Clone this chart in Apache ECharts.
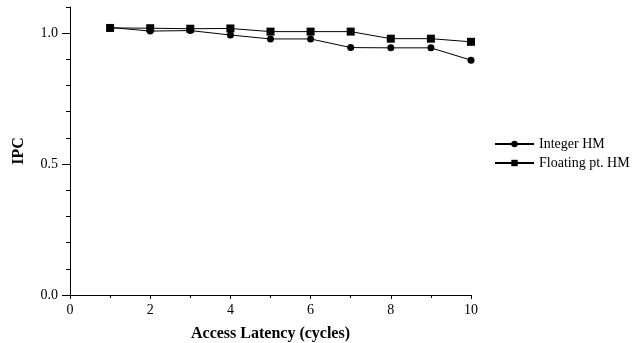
<!DOCTYPE html>
<html>
<head>
<meta charset="utf-8">
<script src="https://cdn.jsdelivr.net/npm/echarts@6/dist/echarts.min.js"></script>
<style>
  html, body { margin: 0; padding: 0; background: #fff; }
  #chart { width: 632px; height: 343px; }
</style>
</head>
<body>
<div id="chart"></div>
<script>
// data
const latency = [1, 2, 3, 4, 5, 6, 7, 8, 9, 10]
const integerHM = [1.022, 1.008, 1.010, 0.993, 0.978, 0.978, 0.945, 0.944, 0.944, 0.897]
const floatingHM = [1.020, 1.019, 1.017, 1.018, 1.006, 1.006, 1.006, 0.979, 0.979, 0.967]
const seriesNames = ['Integer HM', 'Floating pt. HM']

const font = 'Liberation Serif'
const chart = echarts.init(document.getElementById('chart'))

const axisLine = { show: true, lineStyle: { color: '#000', width: 1 } }

chart.setOption({
  animation: false,
  textStyle: { fontFamily: font, color: '#000' },
  grid: { left: 70, right: 161, top: 7, bottom: 48, outerBoundsMode: 'none' },
  legend: {
    orient: 'vertical',
    left: 489,
    top: 132,
    itemWidth: 39,
    itemHeight: 8,
    itemGap: 5,
    textStyle: { fontFamily: font, fontSize: 14, color: '#000' },
    data: seriesNames
  },
  xAxis: {
    type: 'value',
    min: 0,
    max: 10,
    interval: 2,
    axisLine: axisLine,
    axisTick: { show: true, length: 4, lineStyle: { color: '#000' } },
    minorTick: { show: true, splitNumber: 2, length: 3, lineStyle: { color: '#000' } },
    splitLine: { show: false },
    axisLabel: { color: '#000', fontFamily: font, fontSize: 14, margin: 8 },
    name: 'Access Latency (cycles)',
    nameLocation: 'middle',
    nameGap: 31,
    nameTextStyle: { fontFamily: font, fontSize: 16, fontWeight: 'bold', color: '#000' }
  },
  yAxis: [{
    type: 'value',
    min: 0,
    max: 1.1,
    interval: 0.1,
    axisLine: axisLine,
    axisTick: { show: true, length: 4, lineStyle: { color: '#000' } },
    splitLine: { show: false },
    axisLabel: { show: false },
    name: 'IPC',
    nameLocation: 'middle',
    nameGap: 43,
    nameTextStyle: { fontFamily: font, fontSize: 16, fontWeight: 'bold', color: '#000' }
  }, {
    type: 'value',
    position: 'left',
    min: 0,
    max: 1.1,
    interval: 0.5,
    axisLine: { show: false },
    axisTick: { show: true, length: 8, lineStyle: { color: '#000' } },
    splitLine: { show: false },
    axisLabel: {
      color: '#000', fontFamily: font, fontSize: 14, margin: 12,
      showMaxLabel: false,
      formatter: v => v.toFixed(1)
    }
  }],
  series: [{
    name: seriesNames[0],
    type: 'line',
    data: latency.map((x, i) => [x, integerHM[i]]),
    symbol: 'circle',
    symbolSize: 7,
    lineStyle: { color: '#000', width: 1 },
    itemStyle: { color: '#000' }
  }, {
    name: seriesNames[1],
    type: 'line',
    data: latency.map((x, i) => [x, floatingHM[i]]),
    symbol: 'rect',
    symbolSize: 8,
    lineStyle: { color: '#000', width: 1 },
    itemStyle: { color: '#000' }
  }]
})
</script>
</body>
</html>
